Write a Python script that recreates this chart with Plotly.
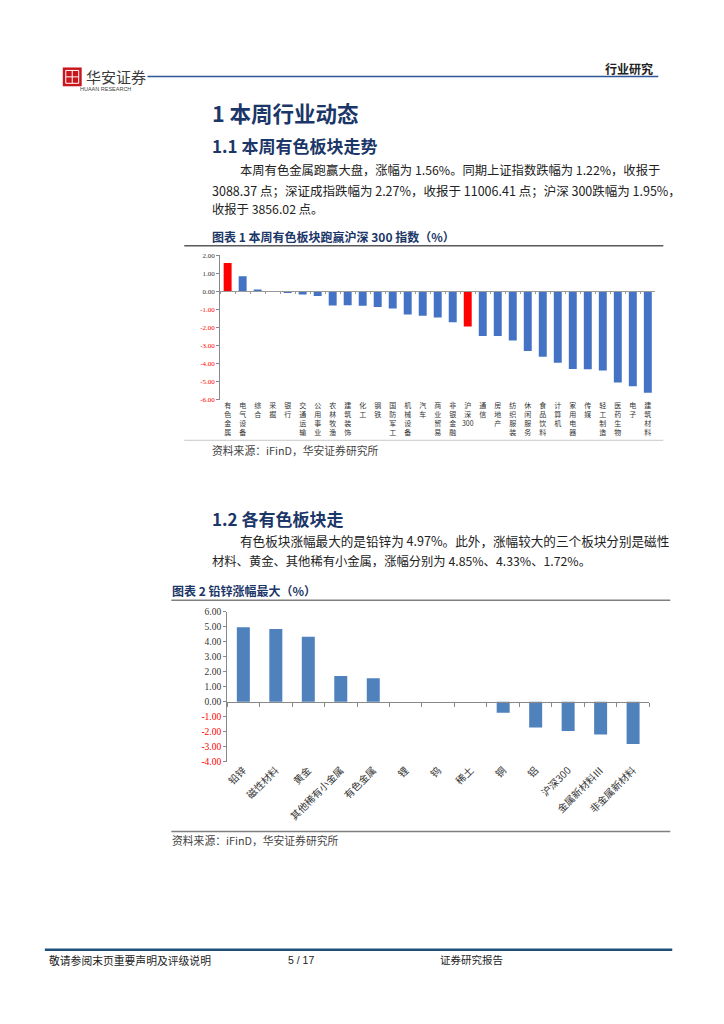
import plotly.graph_objects as go

W, H = 724, 1024
OFF = 8  # page body margin in the browser
CJK = "Noto Sans CJK SC"
SERIF = "Liberation Serif"


def px(x):
    return (x - OFF) / W


def py(y):
    return 1 - (y - OFF) / H


# ---------------- data ----------------
cat1 = ["有色金属", "电气设备", "综合", "采掘", "银行", "交通运输", "公用事业", "农林牧渔",
        "建筑装饰", "化工", "钢铁", "国防军工", "机械设备", "汽车", "商业贸易", "非银金融",
        "沪深300", "通信", "房地产", "纺织服装", "休闲服务", "食品饮料", "计算机", "家用电器",
        "传媒", "轻工制造", "医药生物", "电子", "建筑材料"]
val1 = [1.56, 0.83, 0.10, -0.01, -0.09, -0.18, -0.26, -0.79, -0.77, -0.80, -0.87, -0.96,
        -1.29, -1.36, -1.45, -1.71, -1.95, -2.47, -2.47, -2.73, -3.30, -3.63, -3.96, -4.30,
        -4.32, -4.39, -5.05, -5.25, -5.62]
highlight1 = ["有色金属", "沪深300"]
yticks1 = [2, 1, 0, -1, -2, -3, -4, -5, -6]

cat2 = ["铅锌", "磁性材料", "黄金", "其他稀有小金属", "有色金属", "锂", "钨", "稀土", "铜", "铝",
        "沪深300", "金属新材料Ⅲ", "非金属新材料"]
val2 = [4.97, 4.85, 4.33, 1.72, 1.56, 0.0, 0.0, 0.0, -0.74, -1.73, -1.95, -2.19, -2.83]
yticks2 = [6, 5, 4, 3, 2, 1, 0, -1, -2, -3, -4]

BLUE1 = "#4472C4"
BLUE2 = "#4F81BD"
RED = "#FF0000"
NAVY = "#1B3668"


def fmt_tick(v):
    s = f"{v:.2f}"
    if v < 0:
        return f"<span style='color:#FF0000'>{s}</span>"
    return s


def vlabel(c):
    if c.startswith("沪深"):
        return "沪<br>深<br>300"
    return "<br>".join(list(c))


fig = go.Figure()

fig.add_trace(go.Bar(
    x=cat1, y=val1, xaxis="x", yaxis="y", width=0.53,
    marker=dict(color=[RED if c in highlight1 else BLUE1 for c in cat1], line=dict(width=0)),
    showlegend=False, hoverinfo="skip"))
fig.add_trace(go.Scatter(x=cat1, y=[None] * len(cat1), xaxis="x3", yaxis="y",
                         showlegend=False, hoverinfo="skip", mode="markers"))

fig.add_trace(go.Bar(
    x=cat2, y=val2, xaxis="x2", yaxis="y2", width=0.4,
    marker=dict(color=BLUE2, line=dict(width=0)),
    showlegend=False, hoverinfo="skip"))
fig.add_trace(go.Scatter(x=cat2, y=[None] * len(cat2), xaxis="x4", yaxis="y2",
                         showlegend=False, hoverinfo="skip", mode="markers"))

c1x = [px(218), px(655)]
c1y = [py(398.5), py(252.5)]
c2x = [px(225), px(649)]
c2y = [py(764), py(612.7)]

fig.update_layout(
    width=W, height=H, autosize=False,
    margin=dict(l=0, r=0, t=0, b=0),
    paper_bgcolor="white", plot_bgcolor="white",
    font=dict(family=CJK, color="#333"),
    xaxis=dict(domain=c1x, anchor="y", type="category", range=[-0.5, len(cat1) - 0.5],
               tickvals=cat1, ticktext=[vlabel(c) for c in cat1],
               tickfont=dict(family=CJK, size=7, color="#333"), ticks="", showline=False,
               showgrid=False, zeroline=False),
    yaxis=dict(domain=c1y, anchor="x", range=[-6, 2], tickvals=yticks1,
               ticktext=[fmt_tick(v) for v in yticks1],
               tickfont=dict(family=SERIF, size=7, color="#333"),
               ticks="outside", ticklen=3, tickcolor="#888", showline=True,
               linecolor="#888", linewidth=1, showgrid=False, zeroline=False),
    xaxis3=dict(overlaying="x", anchor="free", position=py(289), domain=c1x,
                type="category", range=[-0.5, len(cat1) - 0.5], showticklabels=False,
                ticks="outside", ticklen=2, tickcolor="#999", tickson="boundaries",
                showline=True, linecolor="#999", linewidth=1, showgrid=False, zeroline=False),
    xaxis2=dict(domain=c2x, anchor="y2", type="category", range=[-0.5, len(cat2) - 0.5],
                tickangle=-45, tickfont=dict(family=CJK, size=10, color="#333"),
                ticks="", showline=False, showgrid=False, zeroline=False),
    yaxis2=dict(domain=c2y, anchor="x2", range=[-4, 6], tickvals=yticks2,
                ticktext=[fmt_tick(v) for v in yticks2],
                tickfont=dict(family=SERIF, size=9.5, color="#333"),
                ticks="outside", ticklen=3, tickcolor="#888", showline=True,
                linecolor="#888", linewidth=1, showgrid=False, zeroline=False),
    xaxis4=dict(overlaying="x2", anchor="free", position=py(703.7), domain=c2x,
                type="category", range=[-0.5, len(cat2) - 0.5], showticklabels=False,
                ticks="outside", ticklen=4, tickcolor="#888", tickson="boundaries",
                showline=True, linecolor="#888", linewidth=1, showgrid=False, zeroline=False),
)

shapes = []


def hline(x0, x1, y, color, w):
    shapes.append(dict(type="line", xref="paper", yref="paper", x0=px(x0), x1=px(x1),
                       y0=py(y), y1=py(y), line=dict(color=color, width=w)))


def rect(x0, y0, x1, y1, fill, lc, lw):
    shapes.append(dict(type="rect", xref="paper", yref="paper", x0=px(x0), x1=px(x1),
                       y0=py(y1), y1=py(y0), fillcolor=fill, line=dict(color=lc, width=lw)))


# header
hline(145, 658, 72, "#2E5597", 1.5)
rect(60, 63, 79, 82, "#C8161D", "#C8161D", 0)
rect(63, 66, 76, 79, "rgba(0,0,0,0)", "white", 1)
hline(63, 76, 72.5, "white", 1)
shapes.append(dict(type="line", xref="paper", yref="paper", x0=px(69.5), x1=px(69.5),
                   y0=py(66), y1=py(79), line=dict(color="white", width=1)))
# chart frames
hline(182, 663, 243, "#595959", 1.5)
hline(182, 663, 439.5, "#C8C8C8", 1)
hline(169, 670, 601, "#7F7F7F", 1.5)
hline(169, 670, 834.5, "#7F7F7F", 1.5)
# footer
hline(42, 672, 954, "#1F4E79", 2.5)
fig.update_layout(shapes=shapes)

ann = []


def text(x, y, s, size, color="#222", bold=False, family=CJK, anchor="left"):
    if bold:
        s = f"<b>{s}</b>"
    ann.append(dict(xref="paper", yref="paper", x=px(x), y=py(y), text=s, showarrow=False,
                    xanchor=anchor, yanchor="middle",
                    font=dict(family=family, size=size, color=color)))


text(81, 72, "华安证券", 15, "#3a3a3a")
text(75, 85, "HUAAN RESEARCH", 5.5, "#444", family="Liberation Sans")
text(655, 64, "行业研究", 12, "#222", bold=True, anchor="right")

text(208, 108, "1 本周行业动态", 21.5, NAVY, bold=True)
text(208, 142, "1.1 本周有色板块走势", 17, NAVY, bold=True)
text(236, 167, "本周有色金属跑赢大盘，涨幅为 1.56%。同期上证指数跌幅为 1.22%，收报于", 12.3, "#222")
text(208, 187, "3088.37 点；深证成指跌幅为 2.27%，收报于 11006.41 点；沪深 300跌幅为 1.95%，", 12.5, "#222")
text(208, 206, "收报于 3856.02 点。", 12.3, "#222")
text(208, 234, "图表 1 本周有色板块跑赢沪深 300 指数（%）", 12, NAVY, bold=True)
text(208, 449, "资料来源：iFinD，华安证券研究所", 10.8, "#444")

text(208, 518, "1.2 各有色板块走", 17, NAVY, bold=True)
text(236, 541, "有色板块涨幅最大的是铅锌为 4.97%。此外，涨幅较大的三个板块分别是磁性", 12.6, "#222")
text(208, 561, "材料、黄金、其他稀有小金属，涨幅分别为 4.85%、4.33%、1.72%。", 12.3, "#222")
text(168, 591, "图表 2 铅锌涨幅最大（%）", 12, NAVY, bold=True)
text(168, 843, "资料来源：iFinD，华安证券研究所", 10.8, "#444")

text(44, 964, "敬请参阅末页重要声明及评级说明", 10.8, "#222")
text(299, 964, "5 / 17", 10.5, "#222", family="Liberation Sans", anchor="center")
text(437, 964, "证券研究报告", 10.5, "#222")

fig.update_layout(annotations=ann)
fig.write_html("out.html")
